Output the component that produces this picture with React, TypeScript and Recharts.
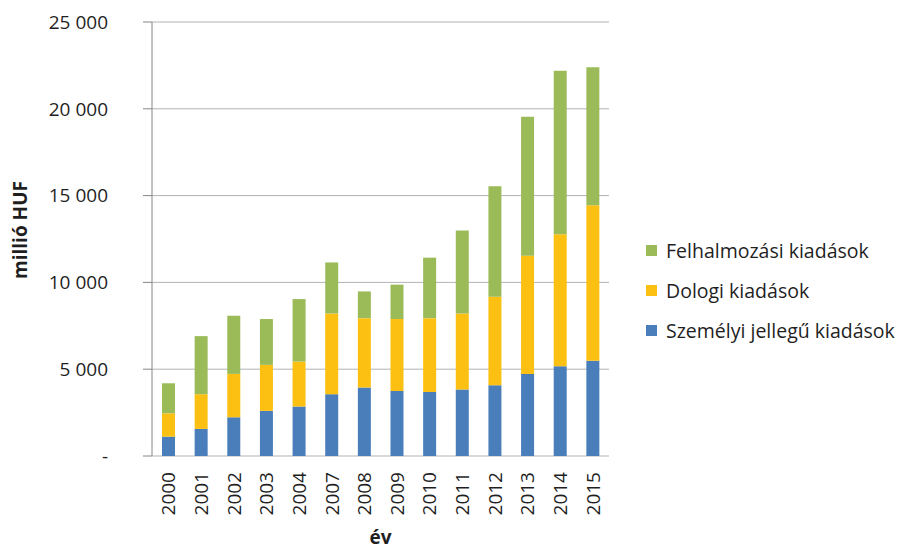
import React from 'react';
import { BarChart, Bar, XAxis, YAxis, CartesianGrid, Legend } from 'recharts';

const years = ['2000', '2001', '2002', '2003', '2004', '2007', '2008', '2009', '2010', '2011', '2012', '2013', '2014', '2015'];
const szemelyi = [1115, 1560, 2230, 2600, 2850, 3560, 3940, 3750, 3690, 3830, 4080, 4730, 5175, 5480];
const dologi = [1345, 2000, 2500, 2650, 2590, 4650, 4000, 4140, 4250, 4380, 5095, 6810, 7595, 8965];
const felhalmozasi = [1730, 3345, 3350, 2640, 3600, 2940, 1540, 1980, 3485, 4775, 6365, 8000, 9425, 7945];
const yTicks = [0, 5000, 10000, 15000, 20000, 25000];
const boundaryTicks = [0, 1, 2, 3, 4, 5, 6, 7, 8, 9, 10, 11, 12, 13, 14];

const series = [
  { key: 'szemelyi', name: 'Személyi jellegű kiadások', color: '#4A7EBB' },
  { key: 'dologi', name: 'Dologi kiadások', color: '#FCC012' },
  { key: 'felhalmozasi', name: 'Felhalmozási kiadások', color: '#9BBB59' },
];

const data = years.map((year, i) => ({
  year,
  szemelyi: szemelyi[i],
  dologi: dologi[i],
  felhalmozasi: felhalmozasi[i],
}));

const FONT = '"Open Sans", sans-serif';
const TEXT = '#1f1f1f';

const fmt = (v: number) => (v === 0 ? '-' : String(v).replace(/\B(?=(\d{3})+(?!\d))/g, ' '));

const XTick = (props: any) => {
  const { x, y, payload } = props;
  return (
    <text
      x={x}
      y={y}
      transform={`rotate(-90, ${x}, ${y})`}
      textAnchor="end"
      dominantBaseline="central"
      fontSize={19}
      fontFamily={FONT}
      fill={TEXT}
    >
      {payload.value}
    </text>
  );
};

const LegendContent = () => (
  <div style={{ fontFamily: FONT, fontSize: 19.5, color: TEXT }}>
    {[...series].reverse().map((s) => (
      <div key={s.key} style={{ height: 40, display: 'flex', alignItems: 'center', whiteSpace: 'nowrap' }}>
        <span style={{ display: 'inline-block', width: 11, height: 11, background: s.color, marginRight: 9 }} />
        <span>{s.name}</span>
      </div>
    ))}
  </div>
);

export default function App() {
  return (
    <div style={{ position: 'absolute', left: 0, top: 0, width: 906, height: 549, background: '#fff' }}>
      <BarChart
        width={906}
        height={549}
        data={data}
        margin={{ top: 22, right: 297, bottom: 0, left: 0 }}
        style={{ fontFamily: FONT }}
      >
        <CartesianGrid vertical={false} stroke="#B3B3B3" xAxisId="cat" />
        <XAxis
          xAxisId="b"
          type="number"
          domain={[0, 14]}
          ticks={boundaryTicks}
          height={0}
          tickSize={8}
          tick={() => <g />}
          axisLine={{ stroke: '#868686' }}
          tickLine={{ stroke: '#868686' }}
          allowDataOverflow
        />
        <XAxis
          xAxisId="cat"
          dataKey="year"
          height={93}
          axisLine={false}
          tickLine={false}
          tickSize={0}
          tickMargin={16}
          interval={0}
          tick={<XTick />}
          label={{
            content: (p: any) => {
              const vb = p.viewBox;
              return (
                <text
                  x={vb.x + vb.width / 2}
                  y={vb.y + 88}
                  textAnchor="middle"
                  fontSize={19}
                  fontWeight="bold"
                  fontFamily={FONT}
                  fill={TEXT}
                >
                  év
                </text>
              );
            },
          }}
        />
        <YAxis
          width={152}
          domain={[0, 25000]}
          ticks={yTicks}
          tickFormatter={fmt}
          tickSize={9}
          tickMargin={35}
          axisLine={{ stroke: '#868686' }}
          tickLine={{ stroke: '#868686' }}
          tick={{ fontSize: 19, fill: TEXT, fontFamily: FONT }}
          label={{
            content: (p: any) => {
              const vb = p.viewBox;
              const cx = vb.x + 20;
              const cy = vb.y + vb.height / 2 - 9;
              return (
                <text
                  x={cx}
                  y={cy}
                  transform={`rotate(-90, ${cx}, ${cy})`}
                  textAnchor="middle"
                  dominantBaseline="central"
                  fontSize={19}
                  fontWeight="bold"
                  fontFamily={FONT}
                  fill={TEXT}
                >
                  millió HUF
                </text>
              );
            },
          }}
        />
        {series.map((s) => (
          <Bar
            key={s.key}
            dataKey={s.key}
            name={s.name}
            stackId="a"
            xAxisId="cat"
            fill={s.color}
            barSize={13}
            isAnimationActive={false}
          />
        ))}
        <Legend
          layout="vertical"
          align="center"
          verticalAlign="middle"
          content={<LegendContent />}
          wrapperStyle={{ left: 646, top: 230, width: 260 }}
        />
      </BarChart>
    </div>
  );
}
